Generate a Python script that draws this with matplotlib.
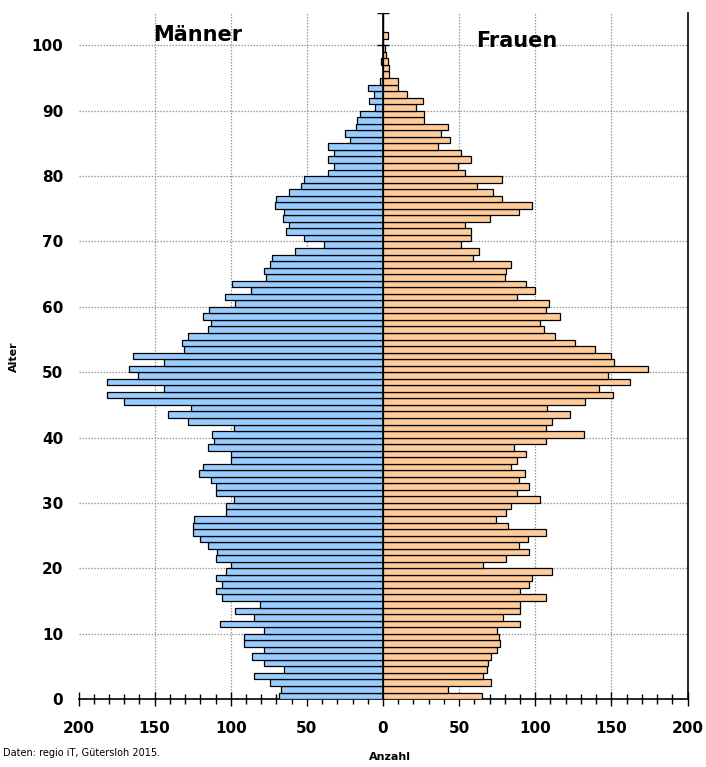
import matplotlib
matplotlib.use("Agg")
import matplotlib.pyplot as plt
import numpy as np

ages = list(range(0, 105))
maenner = [68, 67, 74, 85, 65, 78, 86, 78, 91, 91,
           78, 107, 85, 97, 81, 106, 110, 106, 110, 103,
           100, 110, 109, 115, 120, 125, 125, 124, 103, 103,
           98, 110, 110, 113, 121, 118, 100, 100, 115, 111,
           112, 98, 128, 141, 126, 170, 181, 144, 181, 161,
           167, 144, 164, 131, 132, 128, 115, 113, 118, 114,
           97, 104, 87, 99, 77, 78, 74, 73, 58, 39,
           52, 64, 62, 66, 65, 71, 70, 62, 54, 52,
           36, 32, 36, 32, 36, 22, 25, 18, 17, 15,
           5, 9, 6, 10, 2, 0, 0, 1, 0, 0,
           0, 0, 0, 0, 0]
frauen = [65, 43, 71, 66, 68, 69, 71, 75, 77, 76,
          75, 90, 79, 90, 90, 107, 90, 96, 98, 111,
          66, 81, 96, 89, 95, 107, 82, 74, 81, 84,
          103, 88, 96, 89, 93, 84, 88, 94, 86, 107,
          132, 107, 111, 123, 108, 133, 151, 142, 162, 148,
          174, 152, 150, 139, 126, 113, 106, 103, 116, 107,
          109, 88, 100, 94, 80, 81, 84, 59, 63, 51,
          58, 58, 54, 70, 89, 98, 78, 72, 62, 78,
          54, 49, 58, 51, 36, 44, 38, 43, 27, 27,
          22, 26, 16, 10, 10, 4, 4, 3, 2, 1,
          0, 3, 0, 0, 0]
xticks = [-200, -150, -100, -50, 0, 50, 100, 150, 200]
yticks = [0, 10, 20, 30, 40, 50, 60, 70, 80, 90, 100]

blue = "#99CCFF"
orange = "#FFCC99"

fig = plt.figure(figsize=(7.06, 7.67), dpi=100)
ax = fig.add_axes([78.5 / 706, 67.9 / 767, 609 / 706, 686.5 / 767])

m = np.array(maenner, dtype=float)
f = np.array(frauen, dtype=float)
ax.barh(ages, -m, height=1.0, left=0, align="edge", color=blue,
        edgecolor="black", linewidth=0.9, zorder=3)
ax.barh(ages, f, height=1.0, left=0, align="edge", color=orange,
        edgecolor="black", linewidth=0.9, zorder=3)

ax.set_xlim(-200, 200)
ax.set_ylim(0, 105)

# grid
for xv in xticks[1:-1]:
    if xv != 0:
        ax.axvline(xv, color="#999999", linestyle=(0, (1.2, 1.2)), linewidth=0.9, zorder=1)
for yv in yticks[1:]:
    ax.axhline(yv, color="#999999", linestyle=(0, (1.2, 1.2)), linewidth=0.9, zorder=1)

# central axis
ax.axvline(0, color="black", linewidth=1.2, zorder=4)
ax.plot([0] * 2, [100, 105], linestyle="none", marker="_", markersize=8,
        markeredgewidth=1.0, color="black", zorder=5)

for s in ["left", "top"]:
    ax.spines[s].set_visible(False)
ax.spines["right"].set_linewidth(1.2)
ax.spines["bottom"].set_linewidth(1.2)

ax.set_xticks(xticks)
ax.set_xticklabels([str(abs(v)) for v in xticks], fontsize=11, fontweight="bold")
ax.set_xticks(np.arange(-200, 201, 10), minor=True)
ax.tick_params(axis="x", which="major", direction="inout", length=10, width=1.0, pad=11)
ax.tick_params(axis="x", which="minor", direction="inout", length=7, width=1.0)

ax.set_yticks(yticks)
ax.set_yticklabels([str(v) for v in yticks], fontsize=11, fontweight="bold")
ax.tick_params(axis="y", which="major", length=0, pad=11)

ax.text(-122, 101.5, "Männer", fontsize=15, fontweight="bold", ha="center", va="center")
ax.text(88, 100.6, "Frauen", fontsize=15, fontweight="bold", ha="center", va="center")

fig.text(14 / 706, 1 - 357 / 767, "Alter", rotation=90, fontsize=8, fontweight="bold",
         ha="center", va="center")
fig.text(390 / 706, 1 - 757 / 767, "Anzahl", fontsize=8, fontweight="bold",
         ha="center", va="center")
fig.text(3 / 706, 1 - 753 / 767, "Daten: regio iT, Gütersloh 2015.", fontsize=7,
         ha="left", va="center")

fig.savefig("out.png", dpi=100)
